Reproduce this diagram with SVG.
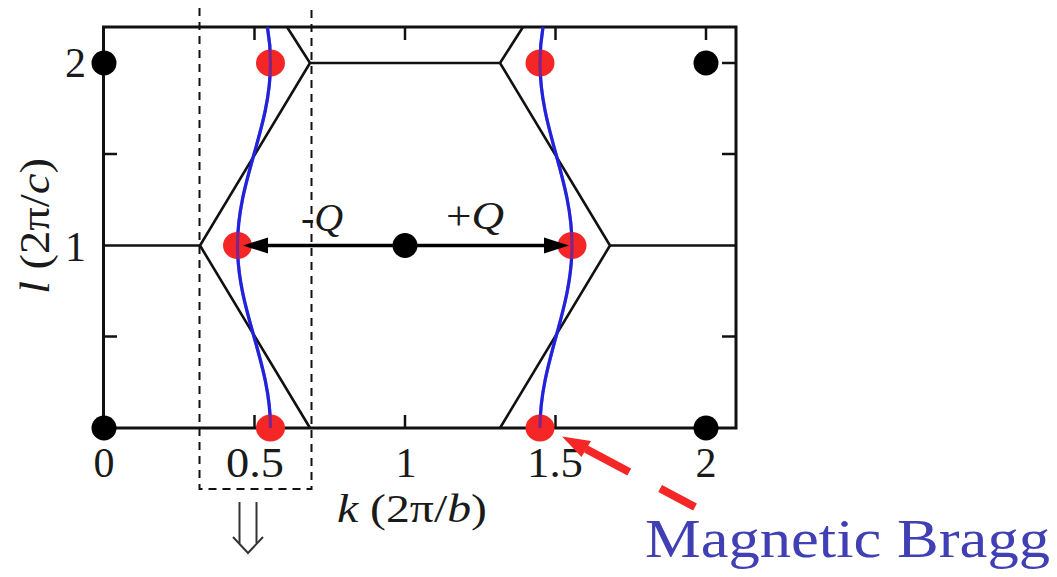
<svg xmlns="http://www.w3.org/2000/svg" width="1057" height="577" viewBox="0 0 1057 577">
<defs>
<style>
.frame{fill:none;stroke:#111;stroke-width:3}
.tick{stroke:#111;stroke-width:2.5}
.hex{fill:none;stroke:#111;stroke-width:2.6;stroke-linejoin:miter}
.dash{fill:none;stroke:#111;stroke-width:2;stroke-dasharray:8 6}
.blue{fill:none;stroke:#2222dd;stroke-width:3.2}
.red{fill:#f42626}
.blk{fill:#000}
.lbl{font-family:'Liberation Serif','Times New Roman',Tinos,serif;fill:#1a1a1a}
.arr{stroke:#000;stroke-width:3.4}
.head{fill:#000}
</style>
</defs>
<rect width="1057" height="577" fill="#fff"/>

<g id="axes">
<rect class="frame" x="103.5" y="27" width="632.5" height="401"/>
<g class="tick">
<line x1="254.5" y1="27" x2="254.5" y2="40"/>
<line x1="405" y1="27" x2="405" y2="40"/>
<line x1="555.5" y1="27" x2="555.5" y2="40"/>
<line x1="706" y1="27" x2="706" y2="40"/>
<line x1="254.5" y1="428" x2="254.5" y2="415"/>
<line x1="405" y1="428" x2="405" y2="415"/>
<line x1="555.5" y1="428" x2="555.5" y2="415"/>
<line x1="103.5" y1="154" x2="117" y2="154"/>
<line x1="103.5" y1="336.5" x2="117" y2="336.5"/>
<line x1="736" y1="63" x2="722" y2="63"/>
<line x1="736" y1="154" x2="722" y2="154"/>
<line x1="736" y1="336.5" x2="722" y2="336.5"/>
</g>
<g class="lbl" font-size="42" text-anchor="middle">
<text x="104" y="477">0</text>
<text x="255" y="477" textLength="58" lengthAdjust="spacingAndGlyphs">0.5</text>
<text x="406" y="477">1</text>
<text x="555" y="477" textLength="56" lengthAdjust="spacingAndGlyphs">1.5</text>
<text x="706" y="477">2</text>
</g>
<g class="lbl" font-size="42" text-anchor="end">
<text x="86" y="77">2</text>
<text x="86" y="261">1</text>
</g>
<text class="lbl" x="337" y="522" font-size="40" textLength="150" lengthAdjust="spacingAndGlyphs"><tspan font-style="italic">k</tspan> (2π/<tspan font-style="italic">b</tspan>)</text>
<text class="lbl" transform="translate(49,226) rotate(-90)" x="0" y="0" font-size="42" text-anchor="middle" textLength="136" lengthAdjust="spacingAndGlyphs"><tspan font-style="italic">l</tspan> (2π/<tspan font-style="italic">c</tspan>)</text>
</g>

<g id="zone-boundaries">
<polyline class="hex" points="287,27 310,63 200,245.5 310,428"/>
<polyline class="hex" points="523,27 500,63 610,245.5 500,428"/>
<line class="hex" x1="310" y1="63" x2="500" y2="63"/>
<line class="hex" x1="103.5" y1="245.5" x2="200" y2="245.5"/>
<line class="hex" x1="610" y1="245.5" x2="736" y2="245.5"/>
</g>

<g id="dashed-box">
<polyline class="dash" points="199.5,8 199.5,489 311.5,489 311.5,8"/>
</g>

<g id="fermi-left">
<path class="blue" d="M270.5,428 C270.5,361.6 237.5,311.9 237.5,245.5 C237.5,179.1 270.5,129.4 270.5,63 C270.5,51 269.5,39 267.4,27"/>
</g>
<g id="fermi-right">
<path class="blue" d="M540,428 C540,361.6 572,311.9 572,245.5 C572,179.1 540,129.4 540,63 C540,51 541,39 543,27"/>
</g>

<g id="nuclear-peaks">
<circle class="blk" cx="104" cy="63" r="12.5"/>
<circle class="blk" cx="706" cy="63" r="12.5"/>
<circle class="blk" cx="104" cy="428" r="12.5"/>
<circle class="blk" cx="706" cy="428" r="12.5"/>
</g>

<g id="magnetic-peaks">
<ellipse class="red" cx="270.5" cy="63" rx="14.5" ry="13.5"/>
<ellipse class="red" cx="237.5" cy="245.5" rx="14.5" ry="13.5"/>
<ellipse class="red" cx="270.5" cy="428" rx="14.5" ry="13.5"/>
<ellipse class="red" cx="540" cy="63" rx="14.5" ry="13.5"/>
<ellipse class="red" cx="572" cy="245.5" rx="14.5" ry="13.5"/>
<ellipse class="red" cx="540" cy="428" rx="14.5" ry="13.5"/>
</g>
<g id="fermi-overlay">
<path class="blue" d="M270.5,428 C270.5,361.6 237.5,311.9 237.5,245.5 C237.5,179.1 270.5,129.4 270.5,63 C270.5,51 269.5,39 267.4,27" opacity="0.55"/>
<path class="blue" d="M540,428 C540,361.6 572,311.9 572,245.5 C572,179.1 540,129.4 540,63 C540,51 541,39 543,27" opacity="0.55"/>
</g>

<g id="connectors">
<line class="arr" x1="405" y1="245.5" x2="262" y2="245.5"/>
<polygon class="head" points="243,245.5 268,237.5 268,253.5"/>
<line class="arr" x1="405" y1="245.5" x2="550" y2="245.5"/>
<polygon class="head" points="569,245.5 544,237.5 544,253.5"/>
<g id="bragg-pointer">
<line x1="586" y1="449" x2="695" y2="507" stroke="#f42626" stroke-width="8" stroke-dasharray="49 35 40"/>
<polygon points="562,436.5 581.5,457 591,441" fill="#f42626"/>
</g>
<g id="down-arrow" fill="none" stroke="#333" stroke-width="2">
<line x1="239.5" y1="502" x2="239.5" y2="543.5"/>
<line x1="256.5" y1="502" x2="256.5" y2="543.5"/>
<polyline points="233,537 248,553 263,537"/>
</g>
</g>

<g id="center-peak">
<circle class="blk" cx="405" cy="245.5" r="12.5"/>
</g>

<g id="q-labels" class="lbl" font-size="40">
<text x="301" y="231">-<tspan font-style="italic">Q</tspan></text>
<text x="446" y="229" textLength="58" lengthAdjust="spacingAndGlyphs">+<tspan font-style="italic">Q</tspan></text>
</g>

<text id="bragg-label" class="lbl" x="645" y="557" font-size="54" style="fill:#4040b4" textLength="405" lengthAdjust="spacingAndGlyphs">Magnetic Bragg</text>
</svg>
